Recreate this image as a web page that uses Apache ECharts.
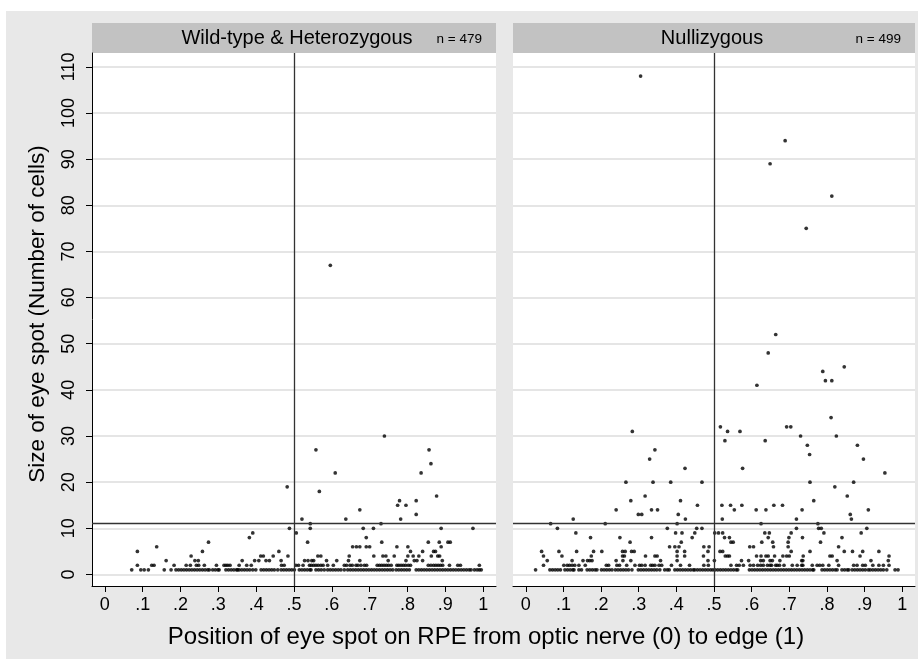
<!DOCTYPE html>
<html lang="en">
<head>
<meta charset="utf-8">
<title>Size of eye spot by position on RPE</title>
<script src="https://cdn.jsdelivr.net/npm/echarts@6/dist/echarts.min.js"></script>
<style>
html, body { margin: 0; padding: 0; background: #fff; }
#bg { position: absolute; left: 6px; top: 11px; width: 912px; height: 648px; background: #e8e8e8; }
#chart { position: absolute; left: 0; top: 0; width: 918px; height: 659px; }
</style>
</head>
<body>
<div id="bg"></div>
<div id="chart"></div>
<script>
var panelTitles = ['Wild-type & Heterozygous', 'Nullizygous'];
var panelCounts = ['n = 479', 'n = 499'];
var xTicks = [0, 0.1, 0.2, 0.3, 0.4, 0.5, 0.6, 0.7, 0.8, 0.9, 1];
var yTicks = [0, 10, 20, 30, 40, 50, 60, 70, 80, 90, 100, 110];
var refX = 0.5;
var refY = 11;

// Wild-type & Heterozygous: positions of spots of size 1, 2 and 3
var wtSize1 = [0.071, 0.095, 0.104, 0.115, 0.157, 0.175,
  0.188, 0.195, 0.202, 0.209, 0.216, 0.223, 0.230, 0.237, 0.244, 0.251, 0.258, 0.265, 0.272, 0.276,
  0.285, 0.292, 0.299, 0.302, 0.320, 0.327, 0.334, 0.341, 0.348, 0.351,
  0.355, 0.362, 0.369, 0.376, 0.383, 0.391, 0.399,
  0.413, 0.420, 0.427, 0.434, 0.441, 0.448, 0.457, 0.466, 0.473, 0.480, 0.487, 0.494, 0.501,
  0.514, 0.521, 0.528, 0.535, 0.542, 0.545, 0.558, 0.565, 0.572, 0.580,
  0.589, 0.596, 0.603, 0.610, 0.617, 0.624, 0.633,
  0.642, 0.649, 0.656, 0.663, 0.670, 0.677, 0.684, 0.691, 0.698, 0.705, 0.712, 0.719, 0.726, 0.733, 0.740, 0.747, 0.754, 0.761,
  0.770, 0.777, 0.784, 0.791, 0.798, 0.805,
  0.823, 0.830, 0.837, 0.844, 0.851, 0.858, 0.865, 0.872, 0.879, 0.886, 0.893, 0.900, 0.907, 0.914, 0.921, 0.928, 0.935, 0.942, 0.949, 0.956, 0.963, 0.968,
  0.977, 0.984, 0.990, 0.995];
var wtSize2 = [0.086, 0.124, 0.130, 0.183, 0.215, 0.226, 0.242, 0.248, 0.263, 0.295, 0.315, 0.320, 0.325, 0.331,
  0.355, 0.375, 0.387, 0.467, 0.474, 0.505, 0.512, 0.524, 0.541, 0.546, 0.552, 0.558, 0.564, 0.571, 0.577,
  0.589, 0.604, 0.633, 0.639, 0.648, 0.654, 0.664, 0.669, 0.677, 0.686, 0.692, 0.720, 0.726, 0.732, 0.738,
  0.744, 0.750, 0.757, 0.772, 0.777, 0.783, 0.789, 0.795, 0.802, 0.808, 0.855, 0.862, 0.869, 0.875, 0.881,
  0.887, 0.893, 0.911, 0.933, 0.940, 0.990];
var wtSize3 = [0.162, 0.238, 0.247, 0.363, 0.396, 0.407, 0.426, 0.435, 0.466, 0.528, 0.537, 0.547, 0.552,
  0.586, 0.613, 0.644, 0.674, 0.749, 0.796, 0.818, 0.825, 0.840, 0.892];
// larger spots: [position, size]
var wtOther = [
  [0.228, 4], [0.412, 4], [0.419, 4], [0.445, 4], [0.484, 4], [0.563, 4], [0.571, 4], [0.646, 4], [0.711, 4],
  [0.735, 4], [0.743, 4], [0.765, 4], [0.801, 4], [0.815, 4], [0.830, 4], [0.863, 4], [0.880, 4], [0.885, 4],
  [0.086, 5], [0.258, 5], [0.460, 5], [0.808, 5], [0.840, 5], [0.869, 5], [0.874, 5],
  [0.137, 6], [0.655, 6], [0.665, 6], [0.674, 6], [0.691, 6], [0.700, 6], [0.772, 6], [0.801, 6], [0.889, 6],
  [0.274, 7], [0.536, 7], [0.732, 7], [0.855, 7], [0.884, 7], [0.907, 7], [0.913, 7],
  [0.382, 8], [0.691, 8], [0.391, 9], [0.506, 9],
  [0.488, 10], [0.543, 10], [0.683, 10], [0.710, 10], [0.889, 10], [0.973, 10],
  [0.543, 11], [0.730, 11], [0.521, 12], [0.637, 12], [0.782, 12], [0.823, 13], [0.674, 14],
  [0.774, 15], [0.796, 15], [0.779, 16], [0.823, 16], [0.877, 17], [0.567, 18], [0.482, 19],
  [0.609, 22], [0.836, 22], [0.862, 24], [0.558, 27], [0.857, 27], [0.739, 30], [0.596, 67]
];

// Nullizygous
var nzSize1 = [0.026, 0.064, 0.071, 0.078, 0.085, 0.092, 0.104, 0.111, 0.118, 0.125, 0.128, 0.141, 0.148,
  0.163, 0.170, 0.177, 0.184, 0.189, 0.201, 0.208, 0.215, 0.222, 0.229,
  0.238, 0.245, 0.252, 0.259, 0.266, 0.273, 0.282,
  0.299, 0.306, 0.313, 0.320, 0.327, 0.334, 0.341, 0.348, 0.356, 0.369, 0.376, 0.381,
  0.396, 0.403, 0.410, 0.417, 0.424, 0.431, 0.438, 0.445, 0.449, 0.456, 0.463, 0.470, 0.477, 0.484, 0.491, 0.497,
  0.503, 0.510, 0.517, 0.524, 0.531, 0.538, 0.545, 0.552, 0.559, 0.563,
  0.594, 0.601, 0.608, 0.615, 0.622, 0.629, 0.636, 0.643, 0.650, 0.657, 0.664, 0.671, 0.678, 0.685, 0.692,
  0.699, 0.706, 0.713, 0.720, 0.727, 0.734, 0.741, 0.748, 0.755, 0.762, 0.765,
  0.787, 0.794, 0.801, 0.808, 0.815, 0.822, 0.827, 0.840, 0.847, 0.854, 0.858,
  0.867, 0.874, 0.881, 0.888, 0.895, 0.902, 0.910, 0.915, 0.922, 0.929, 0.936, 0.943, 0.950, 0.959, 0.981, 0.989];
var nzSize2 = [0.047, 0.101, 0.110, 0.116, 0.123, 0.130, 0.141, 0.158, 0.214, 0.220, 0.242, 0.249, 0.268, 0.290,
  0.302, 0.308, 0.317, 0.332, 0.337, 0.343, 0.354, 0.361, 0.387, 0.411, 0.435, 0.473, 0.485, 0.545, 0.560,
  0.567, 0.578, 0.596, 0.605, 0.616, 0.624, 0.631, 0.642, 0.649, 0.653, 0.664, 0.668, 0.674, 0.686, 0.708,
  0.721, 0.733, 0.736, 0.761, 0.774, 0.781, 0.789, 0.805, 0.831, 0.871, 0.880, 0.895, 0.902, 0.922, 0.938,
  0.950, 0.965];
var nzSize3 = [0.057, 0.123, 0.152, 0.164, 0.170, 0.176, 0.240, 0.258, 0.279, 0.358, 0.402, 0.484, 0.501,
  0.573, 0.592, 0.624, 0.631, 0.649, 0.655, 0.675, 0.733, 0.736, 0.827, 0.917, 0.963];
var nzOther = [
  [0.047, 4], [0.096, 4], [0.174, 4], [0.257, 4], [0.262, 4], [0.318, 4], [0.343, 4], [0.349, 4], [0.402, 4],
  [0.422, 4], [0.472, 4], [0.530, 4], [0.536, 4], [0.541, 4], [0.613, 4], [0.625, 4], [0.638, 4], [0.644, 4],
  [0.661, 4], [0.683, 4], [0.693, 4], [0.700, 4], [0.737, 4], [0.808, 4], [0.814, 4], [0.888, 4], [0.965, 4],
  [0.042, 5], [0.088, 5], [0.135, 5], [0.180, 5], [0.202, 5], [0.257, 5], [0.264, 5], [0.281, 5], [0.288, 5],
  [0.402, 5], [0.422, 5], [0.484, 5], [0.516, 5], [0.523, 5], [0.705, 5], [0.755, 5], [0.846, 5], [0.868, 5],
  [0.895, 5], [0.938, 5],
  [0.382, 6], [0.396, 6], [0.407, 6], [0.473, 6], [0.487, 6], [0.595, 6], [0.605, 6], [0.658, 6], [0.697, 6], [0.831, 6],
  [0.277, 7], [0.413, 7], [0.545, 7], [0.551, 7], [0.627, 7], [0.656, 7], [0.697, 7], [0.783, 7],
  [0.172, 8], [0.250, 8], [0.334, 8], [0.442, 8], [0.528, 8], [0.541, 8], [0.644, 8], [0.699, 8], [0.735, 8], [0.840, 8],
  [0.133, 9], [0.398, 9], [0.415, 9], [0.449, 9], [0.502, 9], [0.512, 9], [0.523, 9], [0.635, 9], [0.647, 9],
  [0.705, 9], [0.792, 9], [0.891, 9],
  [0.084, 10], [0.376, 10], [0.454, 10], [0.468, 10], [0.719, 10], [0.778, 10], [0.785, 10], [0.906, 10],
  [0.066, 11], [0.211, 11], [0.402, 11], [0.625, 11], [0.776, 11],
  [0.126, 12], [0.424, 12], [0.522, 12], [0.719, 12], [0.865, 12],
  [0.299, 13], [0.308, 13], [0.405, 13], [0.862, 13],
  [0.240, 14], [0.334, 14], [0.350, 14], [0.554, 14], [0.612, 14], [0.638, 14], [0.734, 14], [0.910, 14],
  [0.456, 15], [0.521, 15], [0.544, 15], [0.574, 15], [0.659, 15], [0.682, 15],
  [0.279, 16], [0.411, 16], [0.765, 16], [0.317, 17], [0.854, 17], [0.821, 19],
  [0.266, 20], [0.338, 20], [0.385, 20], [0.468, 20], [0.755, 20], [0.871, 20],
  [0.954, 22], [0.423, 23], [0.576, 23], [0.329, 25], [0.897, 25], [0.754, 26], [0.343, 27],
  [0.748, 28], [0.881, 28], [0.529, 29], [0.636, 29], [0.730, 30], [0.825, 30],
  [0.283, 31], [0.536, 31], [0.569, 31], [0.517, 32], [0.693, 32], [0.704, 32], [0.811, 34],
  [0.614, 41], [0.796, 42], [0.813, 42], [0.789, 44], [0.846, 45], [0.644, 48], [0.664, 52],
  [0.745, 75], [0.813, 82], [0.649, 89], [0.689, 94], [0.305, 108]
];

function buildPoints(s1, s2, s3, other) {
  var pts = [];
  s1.forEach(function (x) { pts.push([x, 1]); });
  s2.forEach(function (x) { pts.push([x, 2]); });
  s3.forEach(function (x) { pts.push([x, 3]); });
  return pts.concat(other);
}

var FONT = "'Liberation Sans', Arial, sans-serif";
var panelLeft = [92, 513];
var panelWidth = [404, 402];
var plotTop = 53;
var plotBottom = 73;

function xTickText(v) {
  if (Math.abs(v) < 1e-9) return '0';
  if (Math.abs(v - 1) < 1e-9) return '1';
  return '.' + Math.round(v * 10);
}

function makeXAxis(i) {
  return {
    gridIndex: i, type: 'value', min: -0.034, max: 1.034,
    axisLine: { show: true, onZero: false, lineStyle: { color: '#000', width: 1 } },
    axisTick: { show: true, customValues: xTicks, length: 6, lineStyle: { color: '#000' } },
    axisLabel: { customValues: xTicks, formatter: xTickText, color: '#000', fontSize: 18, fontFamily: FONT, margin: 10 },
    splitLine: { show: false }
  };
}

function makeYAxis(i) {
  var first = i === 0;
  return {
    gridIndex: i, type: 'value', min: -2.5, max: 113,
    axisLine: { show: first, onZero: false, lineStyle: { color: '#000', width: 1 } },
    axisTick: { show: first, customValues: yTicks, length: 6, lineStyle: { color: '#000' } },
    axisLabel: { show: first, customValues: yTicks, rotate: 90, color: '#000', fontSize: 18, fontFamily: FONT, margin: 14 },
    splitLine: { show: true, lineStyle: { color: '#dcdcdc', width: 1.5 } }
  };
}

function makeSeries(i, pts) {
  return {
    type: 'scatter', xAxisIndex: i, yAxisIndex: i, data: pts,
    symbol: 'circle', symbolSize: 3.7,
    itemStyle: { color: '#000' },
    silent: true,
    markLine: {
      silent: true, symbol: 'none', animation: false,
      label: { show: false },
      lineStyle: { color: '#333', width: 1.3, type: 'solid' },
      data: [{ xAxis: refX }, { yAxis: refY }]
    }
  };
}

var graphics = [];
for (var i = 0; i < 2; i++) {
  graphics.push({
    type: 'rect', left: panelLeft[i], top: 23,
    shape: { width: panelWidth[i], height: 30 },
    style: { fill: '#c2c2c2' }
  });
  graphics.push({
    type: 'text', x: panelLeft[i] + panelWidth[i] / 2 + (i === 0 ? 3 : -2), y: 38,
    style: { text: panelTitles[i], fill: '#000', font: '20px ' + FONT, textAlign: 'center', textVerticalAlign: 'middle' }
  });
  graphics.push({
    type: 'text', x: panelLeft[i] + panelWidth[i] - 14, y: 39,
    style: { text: panelCounts[i], fill: '#000', font: '13.5px ' + FONT, textAlign: 'right', textVerticalAlign: 'middle' }
  });
}
graphics.push({
  type: 'text', x: 486, y: 637,
  style: { text: 'Position of eye spot on RPE from optic nerve (0) to edge (1)', fill: '#000', font: '24px ' + FONT, textAlign: 'center', textVerticalAlign: 'middle' }
});
graphics.push({
  type: 'text', x: 38, y: 314, rotation: Math.PI / 2,
  style: { text: 'Size of eye spot (Number of cells)', fill: '#000', font: '22.5px ' + FONT, textAlign: 'center', textVerticalAlign: 'middle' }
});

var chart = echarts.init(document.getElementById('chart'), null, { renderer: 'canvas' });
chart.setOption({
  animation: false,
  backgroundColor: 'transparent',
  grid: [0, 1].map(function (i) {
    return {
      left: panelLeft[i], width: panelWidth[i], top: plotTop, bottom: plotBottom,
      show: true, backgroundColor: '#fff', borderWidth: 0
    };
  }),
  xAxis: [makeXAxis(0), makeXAxis(1)],
  yAxis: [makeYAxis(0), makeYAxis(1)],
  series: [
    makeSeries(0, buildPoints(wtSize1, wtSize2, wtSize3, wtOther)),
    makeSeries(1, buildPoints(nzSize1, nzSize2, nzSize3, nzOther))
  ],
  graphic: graphics
});
</script>
</body>
</html>
